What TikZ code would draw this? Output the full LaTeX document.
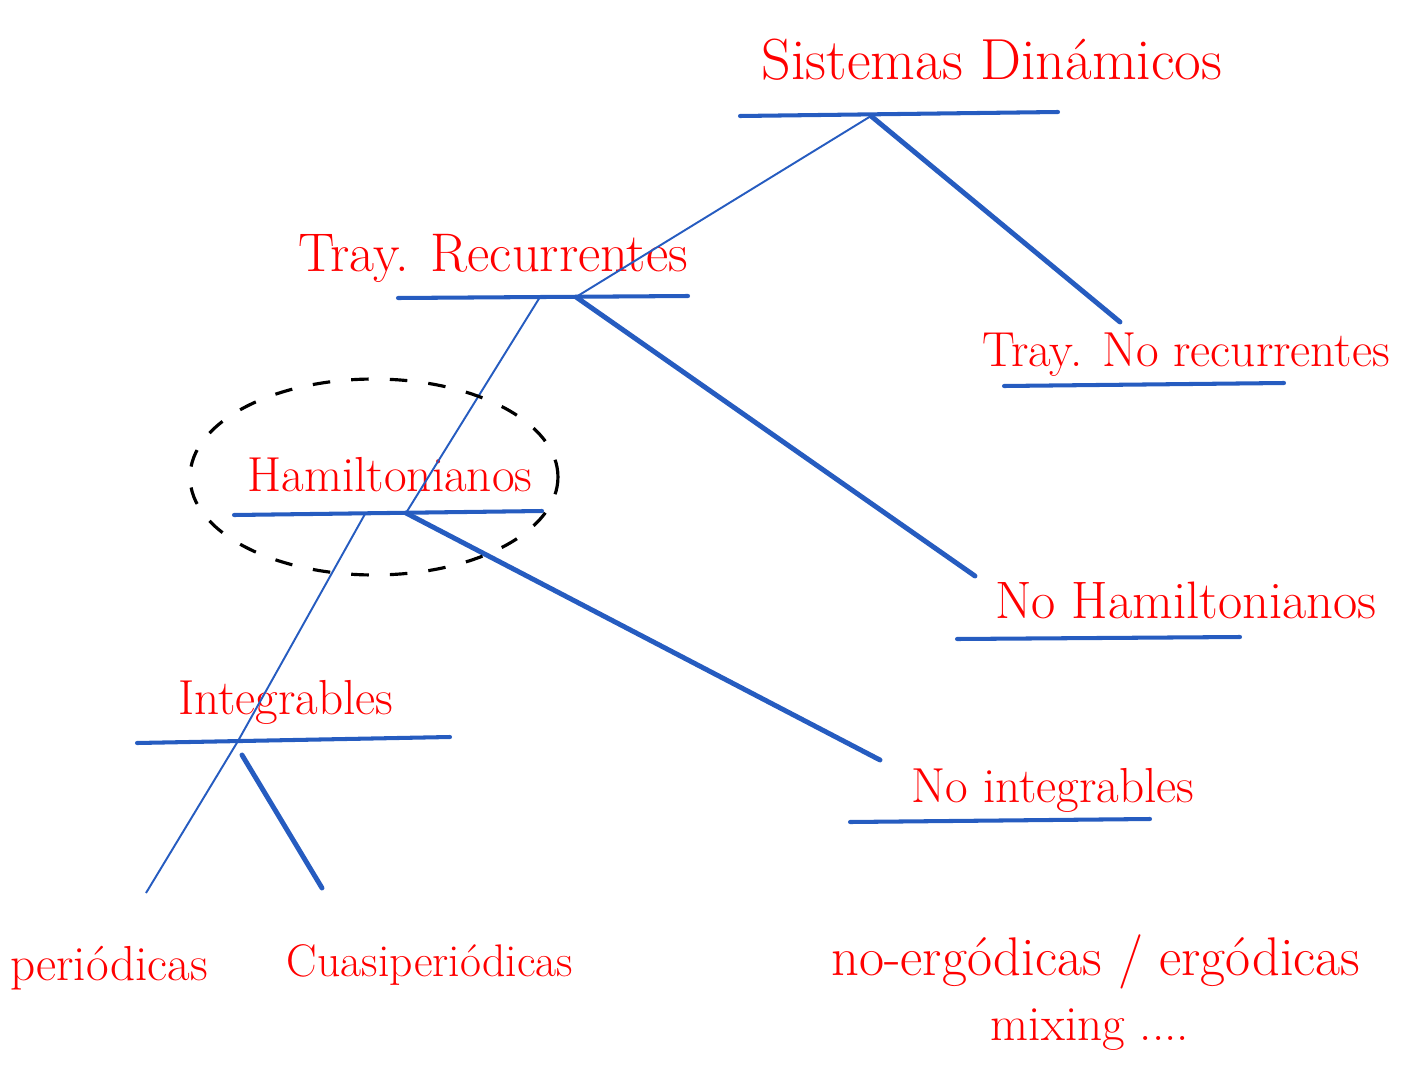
\documentclass[tikz,border=0pt]{standalone}
\usepackage{tikz}
\usetikzlibrary{positioning}
\definecolor{pluma}{RGB}{38,92,192}

\begin{document}
\begin{tikzpicture}[x = 0.02cm, y = -0.02cm,
    lbl/.style = {red, inner sep = 0pt, font = \fontsize{28}{32}\selectfont},
    raya/.style = {pluma, line width = 2.3pt, line cap = round},
    fino/.style = {pluma, line width = 1.1pt},
    grueso/.style = {pluma, line width = 2.8pt, line cap = round}]
    \useasboundingbox (0,0) rectangle (1416,1078);
    \node at (992,60) [lbl, font = \fontsize{33}{36}\selectfont] (sist) {Sistemas Dinámicos};
    \node at (493,258) [lbl, font = \fontsize{31}{34}\selectfont] (trec) {Tray. Recurrentes};
    \node at (1186,355) [lbl] (tnr) {Tray. No recurrentes};
    \node at (390,475) [lbl] (ham) {Hamiltonianos};
    \node at (1186,600) [lbl, font = \fontsize{30}{34}\selectfont] (noham) {No Hamiltonianos};
    \node at (286,702) [lbl] (int) {Integrables};
    \node at (1053,790) [lbl] (noint) {No integrables};
    \node at (109,968) [lbl] (per) {periódicas};
    \node at (430,965) [lbl, font = \fontsize{26}{30}\selectfont] (cuasi) {Cuasiperiódicas};
    \node at (1096,962) [lbl, font = \fontsize{31}{34}\selectfont] (ergo) {no-ergódicas / ergódicas};
    \node at (1090,1030) [lbl] (mix) {mixing ....};
    \coordinate (sist-a) at (740,116);
    \coordinate (sist-b) at (1058,112);
    \coordinate (sist-m) at (871,116);
    \coordinate (trec-a) at (398,298);
    \coordinate (trec-b) at (688,296);
    \coordinate (trec-l) at (540,297);
    \coordinate (trec-r) at (576,297);
    \coordinate (tnr-a) at (1004,386);
    \coordinate (tnr-b) at (1284,383);
    \coordinate (tnr-top) at (1120,322);
    \coordinate (ham-a) at (234,515);
    \coordinate (ham-b) at (542,511);
    \coordinate (ham-l) at (365,514);
    \coordinate (ham-r) at (406,513);
    \coordinate (noham-a) at (957,639);
    \coordinate (noham-b) at (1240,637);
    \coordinate (noham-top) at (975,576);
    \coordinate (int-a) at (137,743);
    \coordinate (int-b) at (450,737);
    \coordinate (int-m) at (238,741);
    \coordinate (int-t) at (242,755);
    \coordinate (noint-a) at (850,822);
    \coordinate (noint-b) at (1150,819);
    \coordinate (noint-top) at (880,760);
    \coordinate (per-top) at (146,893);
    \coordinate (cuasi-top) at (322,888);
    \foreach \k in {sist, trec, tnr, ham, noham, int, noint}
        \draw[raya] (\k-a) -- (\k-b);
    \draw[fino] (sist-m) -- (trec-r);
    \draw[grueso] (sist-m) -- (tnr-top);
    \draw[fino] (trec-l) -- (ham-r);
    \draw[grueso] (trec-r) -- (noham-top);
    \draw[fino] (ham-l) -- (int-m);
    \draw[grueso] (ham-r) -- (noint-top);
    \draw[fino] (int-m) -- (per-top);
    \draw[grueso] (int-t) -- (cuasi-top);
    \draw[black, line width = 1.8pt, dash pattern = on 10pt off 12pt] (374,477) ellipse [x radius = 3.68cm, y radius = 1.96cm];
  \end{tikzpicture}
\end{document}
